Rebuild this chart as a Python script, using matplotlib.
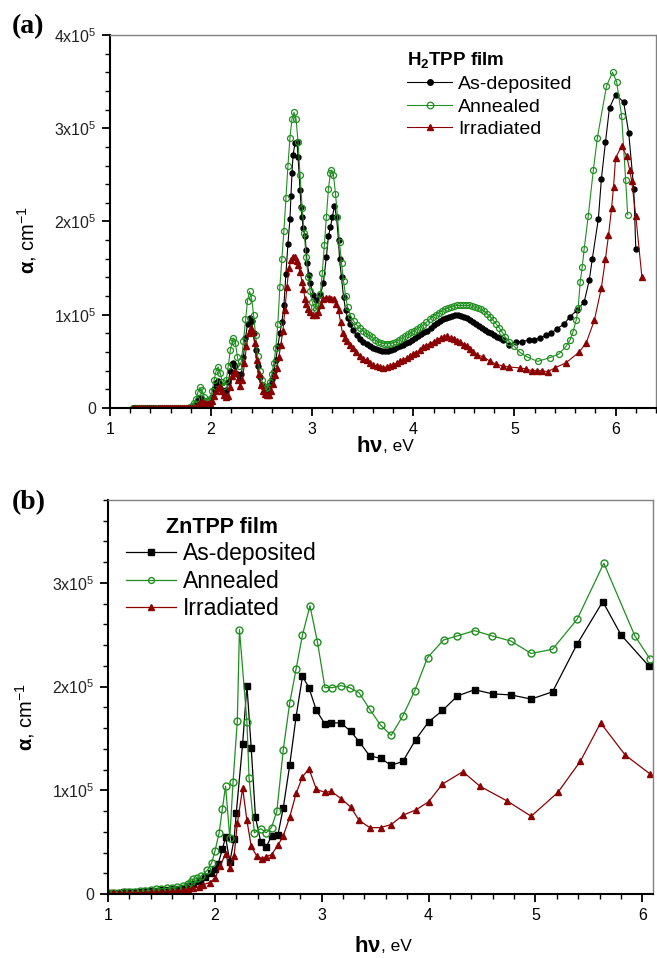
import matplotlib
matplotlib.use("Agg")
import matplotlib.pyplot as plt
from matplotlib.ticker import MultipleLocator, FixedLocator, FixedFormatter

plt.rcParams['font.family'] = ['Liberation Sans', 'DejaVu Sans']
plt.rcParams['mathtext.fontset'] = 'custom'
plt.rcParams['mathtext.rm'] = 'Liberation Sans'
plt.rcParams['mathtext.it'] = 'Liberation Sans:italic'
plt.rcParams['mathtext.bf'] = 'Liberation Sans:bold'
plt.rcParams['mathtext.default'] = 'regular'

# ---- panel (a): H2TPP film, alpha in units of 1e5 cm^-1 vs photon energy (eV)
h2_asdep = [
    (1.23, 0), (1.25, 0), (1.27, 0), (1.29, 0), (1.31, 0), (1.33, 0), (1.35, 0), (1.37, 0),
    (1.39, 0), (1.41, 0), (1.43, 0), (1.45, 0), (1.47, 0), (1.49, 0), (1.51, 0), (1.53, 0),
    (1.55, 0), (1.57, 0), (1.59, 0), (1.61, 0), (1.63, 0), (1.65, 0), (1.67, 0), (1.69, 0),
    (1.71, 0), (1.73, 0), (1.75, 0), (1.77, 0), (1.79, 0.005),
    (1.81, 0.01), (1.83, 0.02), (1.85, 0.05), (1.87, 0.09), (1.89, 0.11), (1.91, 0.10),
    (1.93, 0.06), (1.95, 0.04), (1.97, 0.04), (1.99, 0.06), (2.01, 0.12), (2.03, 0.20),
    (2.05, 0.27), (2.07, 0.29), (2.09, 0.26), (2.11, 0.19), (2.13, 0.16), (2.15, 0.19),
    (2.17, 0.28), (2.19, 0.40), (2.21, 0.47), (2.22, 0.48), (2.24, 0.45), (2.26, 0.36),
    (2.28, 0.30), (2.30, 0.36), (2.32, 0.55), (2.34, 0.75), (2.36, 0.90), (2.38, 0.97),
    (2.40, 0.93), (2.42, 0.80), (2.44, 0.62), (2.46, 0.45), (2.48, 0.33), (2.50, 0.25),
    (2.52, 0.21), (2.54, 0.19), (2.56, 0.20), (2.58, 0.25), (2.60, 0.31), (2.62, 0.40),
    (2.64, 0.52), (2.66, 0.66), (2.68, 0.80), (2.70, 0.92), (2.72, 1.10), (2.74, 1.44),
    (2.76, 1.76), (2.78, 2.03), (2.79, 2.27), (2.80, 2.52), (2.81, 2.71), (2.83, 2.84),
    (2.85, 2.85), (2.86, 2.69), (2.88, 2.34), (2.89, 2.16), (2.90, 2.05), (2.91, 1.93),
    (2.93, 1.84), (2.94, 1.69), (2.95, 1.55), (2.97, 1.43), (2.98, 1.34), (3.01, 1.21),
    (3.04, 1.16), (3.08, 1.21), (3.11, 1.34), (3.14, 1.62), (3.16, 1.84), (3.18, 1.94),
    (3.20, 2.05), (3.22, 2.17), (3.24, 2.05), (3.26, 1.80), (3.27, 1.60), (3.29, 1.40),
    (3.31, 1.19), (3.33, 1.05), (3.35, 0.96), (3.37, 0.90), (3.40, 0.84), (3.44, 0.78),
    (3.47, 0.74), (3.50, 0.71), (3.54, 0.69), (3.57, 0.66), (3.60, 0.64), (3.63, 0.63),
    (3.66, 0.62), (3.69, 0.61), (3.72, 0.61), (3.75, 0.61), (3.78, 0.62), (3.81, 0.63),
    (3.84, 0.65), (3.87, 0.67), (3.90, 0.68), (3.93, 0.70), (3.96, 0.71), (3.99, 0.73),
    (4.02, 0.75), (4.05, 0.77), (4.08, 0.79), (4.11, 0.81), (4.14, 0.83), (4.17, 0.86),
    (4.20, 0.89), (4.23, 0.91), (4.26, 0.93), (4.29, 0.95), (4.32, 0.97), (4.35, 0.98),
    (4.38, 0.99), (4.41, 1.00), (4.44, 1.00), (4.47, 0.99), (4.50, 0.98), (4.53, 0.96),
    (4.56, 0.94), (4.59, 0.92), (4.62, 0.90), (4.65, 0.88), (4.68, 0.86), (4.71, 0.84),
    (4.74, 0.82), (4.77, 0.80), (4.80, 0.78), (4.83, 0.76), (4.86, 0.75), (4.89, 0.73),
    (4.95, 0.675), (5.02, 0.71), (5.07, 0.71), (5.14, 0.73), (5.19, 0.73), (5.25, 0.75),
    (5.31, 0.78), (5.36, 0.80), (5.42, 0.85), (5.49, 0.90), (5.55, 0.98), (5.62, 1.05),
    (5.69, 1.14), (5.74, 1.37), (5.77, 1.60), (5.83, 2.03), (5.86, 2.46), (5.90, 2.85),
    (5.94, 3.22), (6.00, 3.36), (6.08, 3.28), (6.13, 2.95), (6.18, 2.35), (6.20, 1.71),
]

h2_annealed = [
    (1.23, 0), (1.25, 0), (1.27, 0), (1.29, 0), (1.31, 0), (1.33, 0), (1.35, 0), (1.37, 0),
    (1.39, 0), (1.41, 0), (1.43, 0), (1.45, 0), (1.47, 0), (1.49, 0), (1.51, 0), (1.53, 0),
    (1.55, 0), (1.57, 0), (1.59, 0), (1.61, 0), (1.63, 0), (1.65, 0), (1.67, 0), (1.69, 0),
    (1.71, 0), (1.73, 0), (1.75, 0), (1.77, 0.005), (1.79, 0.01),
    (1.81, 0.02), (1.83, 0.05), (1.85, 0.10), (1.87, 0.17), (1.89, 0.22), (1.91, 0.19),
    (1.93, 0.12), (1.95, 0.08), (1.97, 0.07), (1.99, 0.10), (2.01, 0.18), (2.03, 0.30),
    (2.05, 0.40), (2.07, 0.44), (2.09, 0.38), (2.11, 0.28), (2.13, 0.24), (2.15, 0.30),
    (2.17, 0.45), (2.19, 0.62), (2.21, 0.72), (2.22, 0.75), (2.24, 0.70), (2.26, 0.55),
    (2.28, 0.45), (2.30, 0.50), (2.32, 0.72), (2.34, 0.95), (2.36, 1.15), (2.38, 1.25),
    (2.40, 1.18), (2.42, 1.00), (2.44, 0.78), (2.46, 0.56), (2.48, 0.40), (2.50, 0.30),
    (2.52, 0.24), (2.54, 0.21), (2.56, 0.22), (2.58, 0.28), (2.60, 0.36), (2.62, 0.48),
    (2.64, 0.64), (2.66, 0.90), (2.68, 1.30), (2.70, 1.60), (2.72, 1.90), (2.74, 2.25),
    (2.76, 2.60), (2.78, 2.90), (2.80, 3.10), (2.82, 3.17), (2.84, 3.10), (2.86, 2.85),
    (2.88, 2.50), (2.90, 2.15), (2.92, 1.88), (2.94, 1.62), (2.96, 1.40), (2.98, 1.25),
    (3.00, 1.14), (3.02, 1.08), (3.04, 1.06), (3.06, 1.09), (3.08, 1.22), (3.10, 1.45),
    (3.12, 1.75), (3.14, 2.05), (3.16, 2.35), (3.18, 2.52), (3.19, 2.55), (3.21, 2.50),
    (3.23, 2.30), (3.25, 2.05), (3.27, 1.78), (3.29, 1.55), (3.31, 1.36), (3.33, 1.20),
    (3.35, 1.08), (3.38, 0.99), (3.41, 0.93), (3.44, 0.89), (3.47, 0.86), (3.50, 0.83),
    (3.53, 0.80), (3.56, 0.78), (3.59, 0.76), (3.62, 0.73), (3.65, 0.71), (3.68, 0.70),
    (3.71, 0.69), (3.74, 0.69), (3.77, 0.69), (3.80, 0.70), (3.83, 0.71), (3.86, 0.73),
    (3.89, 0.75), (3.92, 0.77), (3.95, 0.79), (3.98, 0.81), (4.01, 0.83), (4.04, 0.85),
    (4.07, 0.87), (4.10, 0.89), (4.13, 0.92), (4.16, 0.95), (4.19, 0.98), (4.22, 1.00),
    (4.25, 1.02), (4.28, 1.04), (4.31, 1.06), (4.34, 1.07), (4.37, 1.08), (4.40, 1.09),
    (4.43, 1.10), (4.46, 1.10), (4.49, 1.10), (4.52, 1.10), (4.55, 1.10), (4.58, 1.09),
    (4.61, 1.08), (4.64, 1.07), (4.67, 1.06), (4.70, 1.04), (4.73, 1.01), (4.76, 0.98),
    (4.79, 0.94), (4.82, 0.90), (4.85, 0.86), (4.88, 0.81), (4.91, 0.76), (4.95, 0.71),
    (5.00, 0.66), (5.05, 0.60), (5.12, 0.55), (5.23, 0.50), (5.35, 0.54), (5.44, 0.58),
    (5.51, 0.66), (5.55, 0.73), (5.58, 0.82), (5.61, 0.94), (5.63, 1.07), (5.65, 1.35),
    (5.67, 1.51), (5.69, 1.71), (5.73, 2.06), (5.78, 2.55), (5.82, 2.90), (5.91, 3.45),
    (5.97, 3.60), (6.01, 3.50), (6.06, 3.13), (6.10, 2.44), (6.12, 2.07),
]

h2_irrad = [
    (1.23, 0), (1.25, 0), (1.27, 0), (1.29, 0), (1.31, 0), (1.33, 0), (1.35, 0), (1.37, 0),
    (1.39, 0), (1.41, 0), (1.43, 0), (1.45, 0), (1.47, 0), (1.49, 0), (1.51, 0), (1.53, 0),
    (1.55, 0), (1.57, 0), (1.59, 0), (1.61, 0), (1.63, 0), (1.65, 0), (1.67, 0), (1.69, 0),
    (1.71, 0), (1.73, 0), (1.75, 0), (1.77, 0), (1.79, 0), (1.81, 0), (1.83, 0.005),
    (1.85, 0.01), (1.87, 0.03), (1.89, 0.05), (1.91, 0.06), (1.93, 0.05), (1.95, 0.04),
    (1.97, 0.04), (1.99, 0.05), (2.01, 0.08), (2.03, 0.13), (2.05, 0.18), (2.07, 0.21),
    (2.09, 0.22), (2.11, 0.18), (2.13, 0.14), (2.15, 0.12), (2.17, 0.13), (2.19, 0.22),
    (2.21, 0.34), (2.23, 0.39), (2.25, 0.38), (2.27, 0.30), (2.29, 0.24), (2.31, 0.30),
    (2.33, 0.48), (2.35, 0.66), (2.37, 0.80), (2.39, 0.86), (2.41, 0.82), (2.43, 0.70),
    (2.45, 0.52), (2.47, 0.36), (2.49, 0.25), (2.51, 0.18), (2.53, 0.15), (2.55, 0.14),
    (2.57, 0.14), (2.59, 0.18), (2.61, 0.26), (2.63, 0.35), (2.65, 0.43), (2.67, 0.55),
    (2.69, 0.68), (2.71, 0.83), (2.73, 1.05), (2.75, 1.30), (2.77, 1.50), (2.79, 1.59),
    (2.81, 1.62), (2.83, 1.62), (2.85, 1.58), (2.86, 1.53), (2.88, 1.46), (2.90, 1.35),
    (2.91, 1.28), (2.93, 1.17), (2.94, 1.12), (2.96, 1.06), (2.98, 1.03), (3.01, 1.00),
    (3.04, 1.00), (3.06, 1.03), (3.09, 1.10), (3.11, 1.17), (3.14, 1.18), (3.17, 1.18),
    (3.19, 1.17), (3.22, 1.17), (3.24, 1.12), (3.26, 1.05), (3.28, 0.92), (3.30, 0.80),
    (3.32, 0.75), (3.34, 0.72), (3.37, 0.68), (3.40, 0.64), (3.43, 0.60), (3.47, 0.56),
    (3.50, 0.53), (3.54, 0.51), (3.57, 0.48), (3.60, 0.46), (3.64, 0.45), (3.67, 0.44),
    (3.70, 0.43), (3.74, 0.44), (3.77, 0.45), (3.80, 0.46), (3.84, 0.48), (3.87, 0.50),
    (3.90, 0.51), (3.94, 0.54), (3.97, 0.56), (4.00, 0.58), (4.03, 0.59), (4.07, 0.62),
    (4.10, 0.65), (4.13, 0.67), (4.16, 0.69), (4.20, 0.71), (4.23, 0.73), (4.27, 0.75),
    (4.30, 0.76), (4.33, 0.77), (4.37, 0.75), (4.40, 0.74), (4.43, 0.72), (4.46, 0.71),
    (4.50, 0.68), (4.53, 0.66), (4.56, 0.63), (4.59, 0.60), (4.63, 0.57), (4.69, 0.55),
    (4.76, 0.50), (4.82, 0.47), (4.89, 0.45), (4.95, 0.44), (5.05, 0.43), (5.11, 0.42),
    (5.17, 0.40), (5.22, 0.40), (5.27, 0.40), (5.33, 0.39), (5.40, 0.43), (5.51, 0.485),
    (5.64, 0.60), (5.71, 0.70), (5.79, 0.94), (5.86, 1.29), (5.90, 1.60), (5.93, 1.85),
    (5.96, 2.14), (5.98, 2.37), (6.00, 2.68), (6.06, 2.81), (6.11, 2.70), (6.14, 2.55),
    (6.16, 2.43), (6.20, 2.06), (6.26, 1.41),
]

# ---- panel (b): ZnTPP film
zn_asdep = [
    (1.00, 0.010), (1.05, 0.012), (1.10, 0.014), (1.15, 0.016), (1.20, 0.018), (1.25, 0.020),
    (1.30, 0.022), (1.35, 0.025), (1.40, 0.028), (1.45, 0.030), (1.50, 0.035), (1.55, 0.040),
    (1.60, 0.045), (1.65, 0.050), (1.70, 0.060), (1.75, 0.080), (1.80, 0.10), (1.86, 0.13),
    (1.91, 0.16), (1.96, 0.20), (2.00, 0.24), (2.03, 0.29), (2.07, 0.43), (2.10, 0.55),
    (2.14, 0.31), (2.18, 0.53), (2.20, 0.78), (2.26, 1.45), (2.30, 2.01), (2.34, 1.41),
    (2.38, 0.74), (2.43, 0.50), (2.48, 0.45), (2.53, 0.56), (2.59, 0.57), (2.64, 0.83),
    (2.70, 1.24), (2.76, 1.71), (2.82, 2.10), (2.88, 1.99), (2.95, 1.77), (3.03, 1.64),
    (3.09, 1.65), (3.18, 1.65), (3.27, 1.57), (3.35, 1.47), (3.45, 1.33), (3.55, 1.31),
    (3.65, 1.24), (3.76, 1.28), (3.88, 1.49), (4.00, 1.66), (4.13, 1.77), (4.27, 1.91),
    (4.43, 1.97), (4.60, 1.93), (4.77, 1.92), (4.96, 1.88), (5.16, 1.95), (5.39, 2.41),
    (5.63, 2.82), (5.80, 2.50), (6.06, 2.20),
]

zn_annealed = [
    (1.00, 0.010), (1.05, 0.012), (1.10, 0.014), (1.15, 0.016), (1.20, 0.018), (1.25, 0.020),
    (1.30, 0.025), (1.35, 0.030), (1.40, 0.035), (1.45, 0.050), (1.50, 0.050), (1.55, 0.055),
    (1.60, 0.060), (1.65, 0.070), (1.70, 0.080), (1.75, 0.10), (1.78, 0.12), (1.80, 0.14),
    (1.83, 0.15), (1.87, 0.17), (1.93, 0.23), (1.97, 0.30), (2.00, 0.41), (2.04, 0.59),
    (2.07, 0.82), (2.10, 1.04), (2.14, 0.54), (2.17, 1.08), (2.21, 1.67), (2.23, 2.55),
    (2.30, 1.66), (2.32, 1.12), (2.37, 0.59), (2.43, 0.63), (2.48, 0.59), (2.53, 0.64),
    (2.58, 0.80), (2.64, 1.39), (2.70, 1.84), (2.76, 2.17), (2.82, 2.50), (2.89, 2.78),
    (2.96, 2.43), (3.03, 1.99), (3.10, 1.99), (3.18, 2.01), (3.26, 1.99), (3.35, 1.94),
    (3.45, 1.78), (3.55, 1.63), (3.65, 1.53), (3.76, 1.72), (3.87, 1.96), (3.99, 2.28),
    (4.14, 2.45), (4.27, 2.49), (4.43, 2.54), (4.59, 2.49), (4.77, 2.44), (4.96, 2.32),
    (5.16, 2.36), (5.39, 2.65), (5.64, 3.19), (5.93, 2.49), (6.07, 2.27),
]

zn_irrad = [
    (1.00, 0.005), (1.05, 0.006), (1.10, 0.007), (1.15, 0.008), (1.20, 0.009), (1.25, 0.010),
    (1.30, 0.012), (1.35, 0.014), (1.40, 0.016), (1.45, 0.018), (1.50, 0.020), (1.55, 0.022),
    (1.60, 0.025), (1.65, 0.030), (1.70, 0.035), (1.75, 0.045), (1.80, 0.060), (1.85, 0.070),
    (1.89, 0.09), (1.95, 0.11), (2.00, 0.15), (2.05, 0.27), (2.10, 0.39), (2.14, 0.25),
    (2.18, 0.37), (2.21, 0.68), (2.26, 1.02), (2.30, 0.71), (2.34, 0.46), (2.39, 0.37),
    (2.44, 0.34), (2.48, 0.36), (2.53, 0.38), (2.59, 0.47), (2.64, 0.56), (2.70, 0.74),
    (2.76, 0.97), (2.82, 1.13), (2.88, 1.21), (2.95, 1.01), (3.03, 0.98), (3.09, 0.99),
    (3.18, 0.92), (3.27, 0.84), (3.35, 0.71), (3.45, 0.64), (3.55, 0.64), (3.65, 0.67),
    (3.76, 0.76), (3.88, 0.81), (4.00, 0.89), (4.13, 1.06), (4.32, 1.18), (4.48, 1.04),
    (4.73, 0.90), (4.96, 0.75), (5.21, 0.98), (5.42, 1.28), (5.61, 1.65), (5.84, 1.34),
    (6.07, 1.16),
]

labels = ["As-deposited", "Annealed", "Irradiated"]
ytick_a = [0, 1, 2, 3, 4]
ytick_b = [0, 1, 2, 3]
ytick_text = ["0", "1x10$^5$", "2x10$^5$", "3x10$^5$", "4x10$^5$"]

black = "#000000"
green = "#1f8f1f"
red = "#8b0000"


def style_axes(ax, xlim, ylim, yticks):
    ax.set_xlim(*xlim)
    ax.set_ylim(*ylim)
    ax.xaxis.set_major_locator(MultipleLocator(1))
    ax.xaxis.set_minor_locator(MultipleLocator(0.2))
    ax.yaxis.set_major_locator(FixedLocator(yticks))
    ax.yaxis.set_major_formatter(FixedFormatter(ytick_text[:len(yticks)]))
    ax.yaxis.set_minor_locator(MultipleLocator(0.2))
    for side in ["top", "right"]:
        ax.spines[side].set_color("#808080")
        ax.spines[side].set_linewidth(1.0)
    for side in ["left", "bottom"]:
        ax.spines[side].set_color("black")
        ax.spines[side].set_linewidth(1.5)
    ax.tick_params(which="both", direction="out", top=False, right=False,
                   labelsize=11.5, colors="black")
    ax.tick_params(which="major", length=6, width=1.3, pad=4)
    ax.tick_params(which="minor", length=3.5, width=1.0)
    ax.tick_params(axis="y", which="major", labelcolor="#222222")


def put_labels(ax, xl_y):
    ax.set_ylabel(r"$\mathbf{\alpha}$, cm$^{-1}$", fontsize=14.5)
    ax.yaxis.set_label_coords(-0.13, 0.45)
    ax.text(0.5, xl_y, r"$\mathbf{h\nu}$", transform=ax.transAxes,
            ha="right", va="center", fontsize=16)
    ax.text(0.5, xl_y, ", eV", transform=ax.transAxes,
            ha="left", va="center", fontsize=12.5)


fig = plt.figure(figsize=(6.57, 9.58), dpi=100)

# panel (a)
ax1 = fig.add_axes([0.1674, 0.5741, 0.8311, 0.3894])
x, y = zip(*h2_asdep)
ax1.plot(x, y, "-o", color=black, lw=0.8, ms=3.6, mfc=black, mec=black, label=labels[0])
x, y = zip(*h2_annealed)
ax1.plot(x, y, "-o", color=green, lw=0.8, ms=4.3, mfc="none", mec=green, mew=0.9,
         label=labels[1])
x, y = zip(*h2_irrad)
ax1.plot(x, y, "-^", color=red, lw=0.8, ms=4.3, mfc=red, mec=red, label=labels[2])
style_axes(ax1, (1, 6.4), (0, 4), ytick_a)
put_labels(ax1, -0.103)
ax1.legend(loc="upper left", bbox_to_anchor=(0.527, 0.985), frameon=False,
           fontsize=14, title=r"H$_\mathbf{2}$TPP film", alignment="left",
           title_fontproperties={"weight": "bold", "size": 13.5}, handlelength=2.3,
           handletextpad=0.3, labelspacing=0.26, borderpad=0, numpoints=1,
           markerscale=1.1)

# panel (b)
ax2 = fig.add_axes([0.1644, 0.0668, 0.8295, 0.4113])
x, y = zip(*zn_asdep)
ax2.plot(x, y, "-s", color=black, lw=0.9, ms=4.5, mfc=black, mec=black, label=labels[0])
x, y = zip(*zn_annealed)
ax2.plot(x, y, "-o", color=green, lw=0.9, ms=5.0, mfc="none", mec=green, mew=1.0,
         label=labels[1])
x, y = zip(*zn_irrad)
ax2.plot(x, y, "-^", color=red, lw=0.9, ms=5.0, mfc=red, mec=red, label=labels[2])
style_axes(ax2, (1, 6.1), (0, 3.8), ytick_b)
put_labels(ax2, -0.133)
ax2.legend(loc="upper left", bbox_to_anchor=(0.012, 0.985), frameon=False,
           fontsize=16.5, title="ZnTPP film",
           title_fontproperties={"weight": "bold", "size": 15.5}, handlelength=2.2,
           handletextpad=0.3, labelspacing=0.18, borderpad=0, numpoints=1,
           markerscale=0.85)

fig.text(0.018, 0.972, "(a)", fontsize=20, fontweight="bold",
         family=["Liberation Serif", "DejaVu Serif"], va="center")
fig.text(0.018, 0.475, "(b)", fontsize=20, fontweight="bold",
         family=["Liberation Serif", "DejaVu Serif"], va="center")

fig.savefig("out.png", dpi=100)
